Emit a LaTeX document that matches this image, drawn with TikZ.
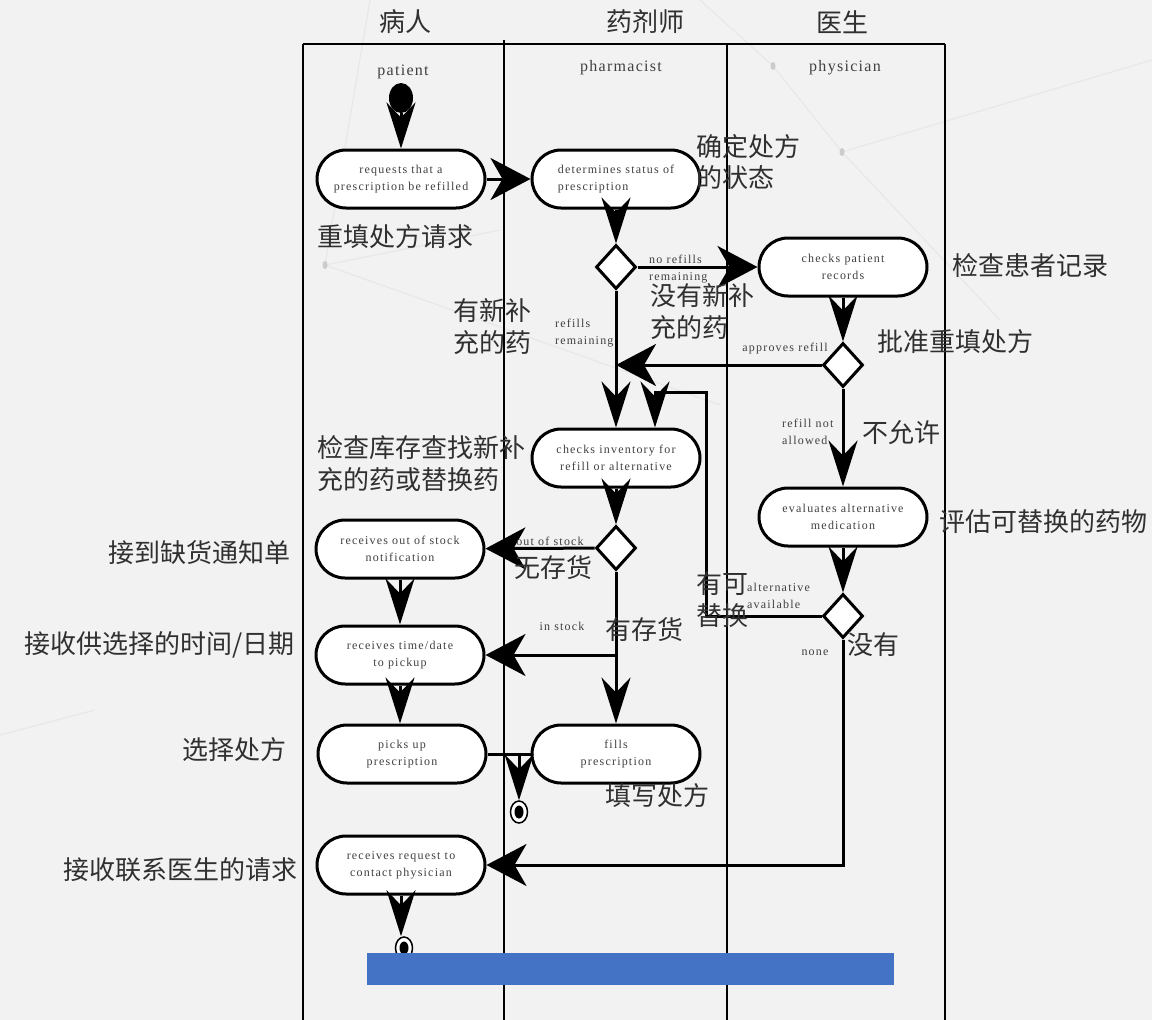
\documentclass[tikz,border=0pt]{standalone}
\usepackage{fontspec}
\setmainfont{Liberation Serif}
\newfontfamily\cjk{Noto Sans CJK SC}
\newfontfamily\actfont[LetterSpace=10]{Liberation Serif}
\newfontfamily\subfont[LetterSpace=8]{Liberation Serif}
\usetikzlibrary{arrows.meta,shapes.geometric}
\definecolor{bggray}{HTML}{F2F2F2}
\definecolor{barblue}{HTML}{4472C4}
\definecolor{zhgray}{HTML}{303030}
\newcommand\acttext{\actfont\fontsize{12}{17}\selectfont}
\newcommand\zhtext{\cjk\fontsize{26}{32}\selectfont}
\tikzset{
	lane/.style={line width=2.2pt},
	action/.style={rectangle, rounded corners=29pt, draw, line width=3pt, fill=white,
		minimum width=168pt, minimum height=58pt, align=center, font=\acttext, text=black!75},
	decision/.style={diamond, draw, line width=3pt, fill=white, inner sep=0pt,
		minimum width=40pt, minimum height=44pt},
	startnode/.style={ellipse, fill=black, minimum width=24pt, minimum height=30pt, inner sep=0pt},
	endnode/.style={ellipse, draw, line width=1.5pt, fill=white, minimum width=17pt,
		minimum height=22pt, inner sep=0pt,
		path picture={\fill[black] (path picture bounding box.center) ellipse (4.5pt and 6.5pt);}},
	conn/.style={line width=3pt},
	harrow/.style={conn, -{Stealth[length=40pt,width=42pt,inset=12pt]}},
	varrow/.style={conn, -{Stealth[length=46pt,width=29pt,inset=15pt]}},
	small/.style={font=\acttext, text=black!75, inner sep=0pt, align=left},
	zh/.style={font=\zhtext, text=zhgray, inner sep=0pt, align=left},
	lanehead/.style={font=\zhtext, text=zhgray, inner sep=0pt},
	lanesub/.style={font=\subfont\fontsize{16}{18}\selectfont, text=black!75, inner sep=0pt},
	faint/.style={line width=1.2pt, color=black!9}
}

\begin{document}
\begin{tikzpicture}[x=1pt, y=-1pt]
		%%%%% BACKGROUND %%%%%
		\fill[bggray] (0,0) rectangle (1152,1020);
		\useasboundingbox (0,0) rectangle (1152,1020);
		\draw[faint] (370,0) -- (325,265);
		\draw[faint] (325,265) -- (720,405);
		\draw[faint] (325,265) -- (500,230);
		\draw[faint] (773,66) -- (842,152);
		\draw[faint] (773,66) -- (700,0);
		\draw[faint] (842,152) -- (1152,60);
		\draw[faint] (842,152) -- (1000,320);
		\draw[faint] (0,735) -- (95,710);
		\fill[black!20] (325,265) ellipse (2.5pt and 4pt);
		\fill[black!20] (773,66) ellipse (2.5pt and 4pt);
		\fill[black!20] (842,152) ellipse (2.5pt and 4pt);
		
		%%%%% LANES %%%%%
		\draw[lane] (303,44) -- (945,44);
		\draw[lane] (303,44) -- (303,1020);
		\draw[lane] (504,40) -- (504,1020);
		\draw[lane] (727,44) -- (727,1020);
		\draw[lane] (945,44) -- (945,1020);
		
		\node[lanehead] (hpat) at (405,22) {病人};
		\node[lanehead] (hpha) at (645,22) {药剂师};
		\node[lanehead] (hphy) at (842,22) {医生};
		\node[lanesub] (spat) at (403,72) {patient};
		\node[lanesub] (spha) at (621,68) {pharmacist};
		\node[lanesub] (sphy) at (845,68) {physician};
		
		%%%%% NODES %%%%%
		\node[startnode] (init) at (401,98) {};
		\node[action] (req) at (401,179) {requests that a\\prescription be refilled};
		\node[action, align=left] (det) at (616,179) {determines status of\\prescription};
		\node[decision] (d1) at (616,267) {};
		\node[action] (rec) at (843,267) {checks patient\\records};
		\node[decision] (d2) at (843,365) {};
		\node[action] (inv) at (616,458) {checks inventory for\\refill or alternative};
		\node[action] (eval) at (843,517) {evaluates alternative\\medication};
		\node[decision] (d3) at (616,548) {};
		\node[action] (oos) at (400,549) {receives out of stock\\notification};
		\node[decision] (d4) at (843,616) {};
		\node[action] (time) at (400,655) {receives time/date\\to pickup};
		\node[action] (pick) at (402,754) {picks up\\prescription};
		\node[action] (fill) at (616,754) {fills\\prescription};
		\node[endnode] (end1) at (519,812) {};
		\node[action] (contact) at (401,865) {receives request to\\contact physician};
		\node[endnode] (end2) at (404,948) {};
		
		\coordinate (altc) at (706,392);
		\coordinate (br) at (616,655);
		\coordinate (mg) at (519,754);
		
		%%%%% CONNECTORS %%%%%
		\draw[varrow] (init) -- (req);
		\draw[harrow] (req) -- (det);
		\draw[varrow] (det) -- (d1);
		\draw[harrow] (d1) -- (rec);
		\draw[varrow] (d1) -- (inv);
		\draw[varrow] (rec) -- (d2);
		\draw[harrow] (d2) -- (d2 -| d1);
		\draw[varrow] (d2) -- (eval);
		\draw[varrow] (eval) -- (d4);
		\draw[varrow] (d4.west) -| (altc) -| ([xshift=39pt]inv.north);
		\draw[harrow] (d4.south) |- (contact.east);
		\draw[varrow] (inv) -- (d3);
		\draw[harrow] (d3) -- (oos);
		\draw[varrow] (d3) -- (fill);
		\draw[harrow] (br) -- (br -| time.east);
		\draw[varrow] (oos) -- (time);
		\draw[varrow] (time) -- (time |- pick.north);
		\draw[conn] (pick) -- (fill);
		\draw[varrow] (mg) -- (end1);
		\draw[varrow] (contact) -- (contact |- end2.north);
		
		%%%%% LABELS %%%%%
		\node[small, anchor=west] (lnoref) at (649,269) {no refills\\remaining};
		\node[small, anchor=west] (lref) at (555,333) {refills\\remaining};
		\node[small] (lappr) at (785,349) {approves refill};
		\node[small, anchor=west] (lnotal) at (782,432) {refill not\\allowed};
		\node[small, anchor=west] (lalt) at (747,596) {alternative\\available};
		\node[small] (lnone) at (815,653) {none};
		\node[small] (lout) at (550,541) {out of stock};
		\node[small] (lin) at (562,626) {in stock};
		
		\node[zh, anchor=west] (zdet) at (696,162) {确定处方\\的状态};
		\node[zh, anchor=west] (zreq) at (317,237) {重填处方请求};
		\node[zh, anchor=west] (zrec) at (952,266) {检查患者记录};
		\node[zh, anchor=west] (znoref) at (650,312) {没有新补\\充的药};
		\node[zh, anchor=west] (zref) at (453,327) {有新补\\充的药};
		\node[zh, anchor=west] (zappr) at (877,342) {批准重填处方};
		\node[zh, anchor=west] (znotal) at (862,433) {不允许};
		\node[zh, anchor=west] (zinv) at (317,464) {检查库存查找新补\\充的药或替换药};
		\node[zh, anchor=west] (zeval) at (939,522) {评估可替换的药物};
		\node[zh, anchor=east] (zoos) at (291,553) {接到缺货通知单};
		\node[zh, anchor=west] (zout) at (514,568) {无存货};
		\node[zh, anchor=west] (zalt) at (696,600) {有可\\替换};
		\node[zh, anchor=west] (zin) at (605,630) {有存货};
		\node[zh, anchor=west] (znone) at (847,645) {没有};
		\node[zh, anchor=east] (ztime) at (295,645) {接收供选择的时间/日期};
		\node[zh, anchor=east] (zpick) at (287,750) {选择处方};
		\node[zh, anchor=west] (zfill) at (605,796) {填写处方};
		\node[zh, anchor=east] (zcont) at (298,870) {接收联系医生的请求};
		
		\fill[barblue] (367,953) rectangle (894,985);
		
	\end{tikzpicture}
\end{document}
